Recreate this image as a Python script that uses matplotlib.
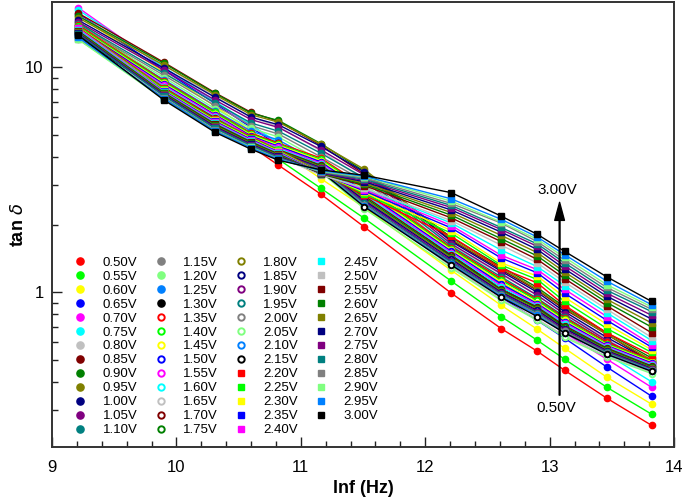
import matplotlib
matplotlib.use('Agg')
import matplotlib.pyplot as plt
from matplotlib.ticker import FixedLocator, NullFormatter, MultipleLocator

plt.rcParams['font.family'] = ['Liberation Sans', 'DejaVu Sans']

# ln(f) of the measured frequencies
x_lnf = [9.21, 9.90, 10.31, 10.60, 10.82, 11.16, 11.51, 12.21, 12.61, 12.90, 13.12, 13.46, 13.82]

# bias voltages, three marker groups
volt_filled = ['0.50V', '0.55V', '0.60V', '0.65V', '0.70V', '0.75V', '0.80V', '0.85V', '0.90V',
               '0.95V', '1.00V', '1.05V', '1.10V', '1.15V', '1.20V', '1.25V', '1.30V']
volt_hollow = ['1.35V', '1.40V', '1.45V', '1.50V', '1.55V', '1.60V', '1.65V', '1.70V', '1.75V',
               '1.80V', '1.85V', '1.90V', '1.95V', '2.00V', '2.05V', '2.10V', '2.15V']
volt_square = ['2.20V', '2.25V', '2.30V', '2.35V', '2.40V', '2.45V', '2.50V', '2.55V', '2.60V',
               '2.65V', '2.70V', '2.75V', '2.80V', '2.85V', '2.90V', '2.95V', '3.00V']

# same colour cycle for each group
palette = ['#FF0000', '#00FF00', '#FFFF00', '#0000FF', '#FF00FF', '#00FFFF', '#C0C0C0', '#800000',
           '#008000', '#808000', '#000080', '#800080', '#008080', '#808080', '#80FF80', '#0080FF',
           '#000000']

tan_filled = [
    [15.0, 8.2, 5.75, 4.45, 3.67, 2.73, 1.95, 0.99, 0.69, 0.547, 0.45, 0.338, 0.256],
    [15.9, 8.7, 6.1, 4.7, 3.9, 2.9, 2.13, 1.12, 0.78, 0.612, 0.504, 0.378, 0.287],
    [17.0, 9.5, 6.7, 5.2, 4.3, 3.2, 2.38, 1.25, 0.875, 0.685, 0.564, 0.419, 0.318],
    [17.3, 9.7, 6.9, 5.4, 4.5, 3.4, 2.55, 1.36, 0.95, 0.75, 0.625, 0.465, 0.345],
    [18.4, 9.9, 7.0, 5.5, 4.55, 3.45, 2.6, 1.42, 1.0, 0.79, 0.66, 0.504, 0.378],
    [18.0, 10.0, 7.05, 5.55, 4.6, 3.5, 2.62, 1.45, 1.02, 0.8, 0.68, 0.53, 0.40],
    [17.0, 10.2, 7.4, 6.0, 5.45, 4.25, 3.15, 1.62, 1.2, 0.97, 0.8, 0.62, 0.47],
    [17.4, 10.5, 7.7, 6.3, 5.75, 4.5, 3.35, 1.7, 1.26, 1.02, 0.84, 0.65, 0.49],
    [16.9, 10.4, 7.65, 6.25, 5.8, 4.58, 3.45, 1.75, 1.3, 1.05, 0.86, 0.66, 0.51],
    [16.6, 10.2, 7.55, 6.15, 5.7, 4.55, 3.52, 1.72, 1.28, 1.03, 0.85, 0.65, 0.50],
    [16.2, 9.9, 7.35, 6.0, 5.55, 4.45, 3.42, 1.68, 1.24, 1.0, 0.82, 0.63, 0.49],
    [15.9, 9.7, 7.15, 5.85, 5.4, 4.3, 3.32, 1.64, 1.21, 0.97, 0.8, 0.61, 0.48],
    [15.6, 9.4, 6.95, 5.65, 5.2, 4.15, 3.22, 1.6, 1.17, 0.94, 0.78, 0.6, 0.47],
    [15.4, 9.2, 6.75, 5.5, 5.05, 4.0, 3.12, 1.56, 1.14, 0.92, 0.76, 0.58, 0.46],
    [15.1, 9.0, 6.55, 5.35, 4.9, 3.85, 3.02, 1.52, 1.11, 0.89, 0.74, 0.57, 0.455],
    [14.9, 8.8, 6.4, 5.2, 4.75, 3.75, 2.92, 1.48, 1.08, 0.87, 0.72, 0.56, 0.45],
    [14.7, 8.6, 6.25, 5.05, 4.6, 3.65, 2.82, 1.45, 1.05, 0.85, 0.7, 0.55, 0.445],
]

tan_hollow = [
    [15.4, 8.7, 6.35, 5.1, 4.6, 3.95, 2.95, 1.58, 1.15, 0.93, 0.77, 0.6, 0.5],
    [15.2, 8.6, 6.3, 5.05, 4.55, 3.9, 2.9, 1.56, 1.13, 0.92, 0.76, 0.59, 0.495],
    [15.0, 8.5, 6.2, 5.0, 4.5, 3.85, 2.85, 1.54, 1.11, 0.9, 0.75, 0.585, 0.49],
    [14.9, 8.4, 6.15, 4.95, 4.45, 3.8, 2.8, 1.52, 1.09, 0.89, 0.74, 0.58, 0.485],
    [14.7, 8.3, 6.1, 4.9, 4.4, 3.75, 2.76, 1.5, 1.07, 0.88, 0.73, 0.575, 0.48],
    [14.6, 8.2, 6.0, 4.85, 4.35, 3.7, 2.72, 1.48, 1.05, 0.87, 0.72, 0.57, 0.475],
    [13.4, 7.5, 5.5, 4.55, 4.1, 3.5, 2.5, 1.3, 0.93, 0.76, 0.64, 0.52, 0.44],
    [14.4, 8.1, 5.95, 4.8, 4.3, 3.67, 2.68, 1.46, 1.03, 0.86, 0.71, 0.565, 0.47],
    [14.3, 8.0, 5.9, 4.78, 4.27, 3.64, 2.64, 1.44, 1.02, 0.85, 0.7, 0.56, 0.465],
    [14.2, 7.95, 5.85, 4.75, 4.24, 3.61, 2.6, 1.42, 1.01, 0.84, 0.69, 0.555, 0.46],
    [14.1, 7.9, 5.8, 4.72, 4.21, 3.58, 2.56, 1.4, 1.0, 0.83, 0.69, 0.55, 0.458],
    [14.0, 7.85, 5.75, 4.7, 4.18, 3.55, 2.52, 1.38, 0.99, 0.82, 0.68, 0.545, 0.455],
    [13.9, 7.8, 5.7, 4.67, 4.15, 3.52, 2.48, 1.36, 0.98, 0.81, 0.67, 0.54, 0.452],
    [13.8, 7.75, 5.65, 4.64, 4.12, 3.5, 2.45, 1.34, 0.97, 0.8, 0.67, 0.535, 0.45],
    [13.3, 7.3, 5.35, 4.45, 4.0, 3.42, 2.35, 1.28, 0.92, 0.75, 0.63, 0.515, 0.435],
    [13.7, 7.7, 5.6, 4.6, 4.08, 3.47, 2.42, 1.33, 0.96, 0.79, 0.66, 0.53, 0.448],
    [13.6, 7.65, 5.55, 4.57, 4.05, 3.45, 2.4, 1.32, 0.95, 0.78, 0.66, 0.53, 0.445],
]

tan_square = [
    [15.0, 8.1, 5.9, 4.9, 4.3, 3.4, 2.7, 1.77, 1.28, 1.1, 0.875, 0.66, 0.525],
    [14.9, 8.0, 5.85, 4.86, 4.27, 3.39, 2.74, 1.83, 1.32, 1.14, 0.91, 0.69, 0.54],
    [14.8, 7.9, 5.8, 4.82, 4.24, 3.38, 2.78, 1.88, 1.35, 1.18, 0.95, 0.72, 0.555],
    [14.7, 7.85, 5.75, 4.78, 4.21, 3.37, 2.82, 1.93, 1.42, 1.22, 0.99, 0.75, 0.57],
    [14.9, 7.8, 5.7, 4.74, 4.18, 3.36, 2.86, 1.98, 1.46, 1.26, 1.03, 0.78, 0.585],
    [14.7, 7.75, 5.65, 4.7, 4.15, 3.35, 2.9, 2.03, 1.54, 1.3, 1.07, 0.81, 0.61],
    [13.5, 7.4, 5.4, 4.5, 4.0, 3.32, 2.9, 2.08, 1.62, 1.35, 1.11, 0.84, 0.63],
    [14.5, 7.7, 5.6, 4.66, 4.12, 3.36, 2.98, 2.14, 1.68, 1.4, 1.15, 0.87, 0.66],
    [14.4, 7.65, 5.55, 4.62, 4.09, 3.37, 3.02, 2.2, 1.73, 1.45, 1.19, 0.9, 0.70],
    [14.3, 7.6, 5.5, 4.58, 4.06, 3.38, 3.06, 2.26, 1.79, 1.5, 1.23, 0.93, 0.73],
    [14.2, 7.55, 5.45, 4.55, 4.03, 3.39, 3.1, 2.32, 1.85, 1.55, 1.27, 0.96, 0.76],
    [14.1, 7.5, 5.4, 4.52, 4.0, 3.4, 3.14, 2.38, 1.9, 1.6, 1.31, 0.99, 0.79],
    [14.0, 7.45, 5.35, 4.48, 3.97, 3.42, 3.18, 2.43, 1.94, 1.64, 1.35, 1.02, 0.82],
    [13.4, 7.3, 5.25, 4.42, 3.93, 3.43, 3.22, 2.48, 2.03, 1.68, 1.39, 1.05, 0.84],
    [13.3, 7.2, 5.2, 4.4, 3.9, 3.45, 3.26, 2.54, 2.05, 1.72, 1.43, 1.08, 0.86],
    [13.6, 7.25, 5.2, 4.38, 3.9, 3.47, 3.28, 2.6, 2.11, 1.76, 1.47, 1.12, 0.88],
    [13.9, 7.14, 5.14, 4.32, 3.86, 3.5, 3.31, 2.77, 2.18, 1.81, 1.52, 1.17, 0.91],
]

fig = plt.figure(figsize=(6.85, 4.99), dpi=100)
ax = fig.add_axes([0.076, 0.104, 0.908, 0.892])

for i, vals in enumerate(tan_filled):
    ax.plot(x_lnf, vals, '-o', color=palette[i], lw=1.0, ms=4.5, mec=palette[i],
            label=volt_filled[i])
for i, vals in enumerate(tan_hollow):
    ax.plot(x_lnf, vals, '-o', color=palette[i], lw=1.0, ms=4.0, mec=palette[i],
            mfc='white', mew=1.4, label=volt_hollow[i])
for i, vals in enumerate(tan_square):
    ax.plot(x_lnf, vals, '-s', color=palette[i], lw=1.0, ms=4.3, mec=palette[i],
            label=volt_square[i])

ax.set_yscale('log')
ax.set_xlim(9, 14)
ax.set_ylim(0.205, 19.5)
ax.yaxis.set_major_locator(FixedLocator([1, 10]))
ax.set_yticklabels(['1', '10'])
ax.yaxis.set_minor_locator(FixedLocator([0.3, 0.4, 0.5, 0.6, 0.7, 0.8, 0.9,
                                         2, 3, 4, 5, 6, 7, 8, 9]))
ax.yaxis.set_minor_formatter(NullFormatter())
ax.xaxis.set_major_locator(MultipleLocator(1))
ax.xaxis.set_minor_locator(MultipleLocator(0.2))
ax.tick_params(which='both', direction='in', top=False, right=False, labelsize=12,
               color='#222222', width=1.0)
ax.tick_params(which='major', length=7)
ax.tick_params(which='minor', length=4)
ax.tick_params(axis='y', which='major', pad=6)
ax.tick_params(axis='x', which='major', pad=9)
for s in ax.spines.values():
    s.set_linewidth(1.4)
    s.set_color('#333333')

ax.set_xlabel('lnf (Hz)', fontsize=13, fontweight='bold', labelpad=4)
ax.set_ylabel(r'tan $\delta$', fontsize=13, fontweight='bold')
ax.yaxis.set_label_coords(-0.04, 0.5)

# voltage direction arrow
ax.annotate('', xy=(13.08, 2.51), xytext=(13.08, 0.349),
            arrowprops=dict(facecolor='black', edgecolor='black', width=0.6,
                            headwidth=7, headlength=13, shrink=0))
ax.text(13.06, 2.85, '3.00V', ha='center', va='center', fontsize=11)
ax.text(13.05, 0.305, '0.50V', ha='center', va='center', fontsize=11)

leg = ax.legend(ncol=4, loc='upper left', bbox_to_anchor=(0.026, 0.44), frameon=False,
                fontsize=9.5, handlelength=1.0, handletextpad=1.2, labelspacing=0.13,
                columnspacing=1.25, borderaxespad=0, markerscale=1.15)
for h in leg.get_lines():
    h.set_linestyle('none')

fig.savefig('out.png', dpi=100)
